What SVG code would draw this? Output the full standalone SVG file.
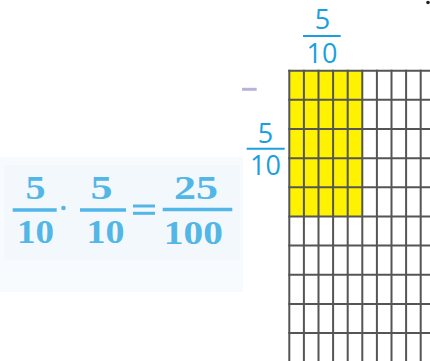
<svg xmlns="http://www.w3.org/2000/svg" width="430" height="361" viewBox="0 0 430 361">
<style>
.eq{font-family:"Liberation Serif","Times New Roman",serif;font-weight:bold;font-size:34px;fill:#52b6e6;text-anchor:middle}
.fr{font-family:"Open Sans","Noto Sans",sans-serif;font-size:27px;fill:#1a9fe0;text-anchor:middle}
.gl{stroke:#555;stroke-width:2}
</style>
<rect width="430" height="361" fill="#fff"/>
<g id="equation">
<rect x="0" y="157" width="243" height="135" fill="#f8fbfe"/>
<rect x="4" y="165" width="236" height="95" fill="#f3f8fd"/>
<text class="eq" x="35.5" y="198.5" textLength="20" lengthAdjust="spacingAndGlyphs">5</text>
<line x1="12.7" y1="210" x2="56.7" y2="210" stroke="#52b6e6" stroke-width="3.5"/>
<text class="eq" x="35.5" y="242.7" textLength="37" lengthAdjust="spacingAndGlyphs">10</text>
<circle cx="63.5" cy="208" r="2.3" fill="#52b6e6"/>
<text class="eq" x="101.5" y="198.5" textLength="22" lengthAdjust="spacingAndGlyphs">5</text>
<line x1="80" y1="210" x2="126" y2="210" stroke="#52b6e6" stroke-width="3.5"/>
<text class="eq" x="105.5" y="242.7" textLength="38" lengthAdjust="spacingAndGlyphs">10</text>
<line x1="133" y1="206" x2="155" y2="206" stroke="#52b6e6" stroke-width="3"/>
<line x1="133" y1="213.3" x2="155" y2="213.3" stroke="#52b6e6" stroke-width="3"/>
<text class="eq" x="196" y="199.3" textLength="44" lengthAdjust="spacingAndGlyphs">25</text>
<line x1="162.7" y1="209.5" x2="232.3" y2="209.5" stroke="#52b6e6" stroke-width="3.5"/>
<text class="eq" x="193.3" y="244" textLength="59" lengthAdjust="spacingAndGlyphs">100</text>
</g>
<g id="top-fraction">
<text class="fr" x="322.5" y="29">5</text>
<line x1="303" y1="36" x2="340.7" y2="36" stroke="#1a9fe0" stroke-width="2"/>
<text class="fr" x="322" y="63">10</text>
</g>
<g id="left-fraction">
<text class="fr" x="265.5" y="143.3">5</text>
<line x1="246.7" y1="148.7" x2="284.7" y2="148.7" stroke="#1a9fe0" stroke-width="2"/>
<text class="fr" x="265.5" y="175.3">10</text>
</g>
<line x1="242" y1="89.3" x2="256.7" y2="89.3" stroke="#b9b3d9" stroke-width="3"/>
<circle cx="428" cy="2.5" r="1.8" fill="#222"/>
<g id="grid">
<rect x="289.3" y="70.7" width="73" height="145.75" fill="#fff200"/>
<g class="gl">
<line x1="289.3" y1="69.7" x2="289.3" y2="361"/>
<line x1="303.9" y1="69.7" x2="303.9" y2="361"/>
<line x1="318.5" y1="69.7" x2="318.5" y2="361"/>
<line x1="333.1" y1="69.7" x2="333.1" y2="361"/>
<line x1="347.7" y1="69.7" x2="347.7" y2="361"/>
<line x1="362.3" y1="69.7" x2="362.3" y2="361"/>
<line x1="376.9" y1="69.7" x2="376.9" y2="361"/>
<line x1="391.5" y1="69.7" x2="391.5" y2="361"/>
<line x1="406.1" y1="69.7" x2="406.1" y2="361"/>
<line x1="420.7" y1="69.7" x2="420.7" y2="361"/>
<line x1="288.3" y1="70.7" x2="430" y2="70.7"/>
<line x1="288.3" y1="99.85" x2="430" y2="99.85"/>
<line x1="288.3" y1="129" x2="430" y2="129"/>
<line x1="288.3" y1="158.15" x2="430" y2="158.15"/>
<line x1="288.3" y1="187.3" x2="430" y2="187.3"/>
<line x1="288.3" y1="216.45" x2="430" y2="216.45"/>
<line x1="288.3" y1="245.6" x2="430" y2="245.6"/>
<line x1="288.3" y1="274.75" x2="430" y2="274.75"/>
<line x1="288.3" y1="303.9" x2="430" y2="303.9"/>
<line x1="288.3" y1="333.05" x2="430" y2="333.05"/>
</g>
</g>
</svg>
